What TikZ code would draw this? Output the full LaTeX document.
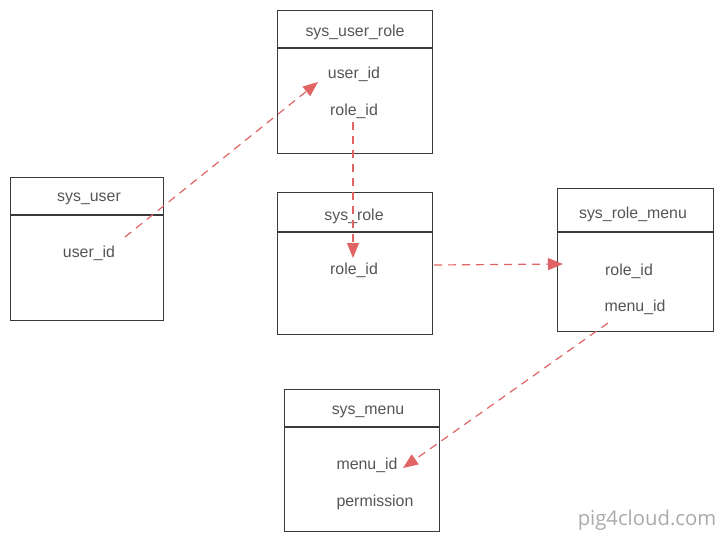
\documentclass[tikz,border=0pt]{standalone}
\usepackage{fontspec}
\setmainfont{Liberation Sans}
\newfontfamily\wmfont{Open Sans}
\usetikzlibrary{arrows.meta,calc}
\definecolor{txt}{HTML}{555555}
\definecolor{edge}{HTML}{3A3A3A}
\definecolor{rel}{HTML}{E06464}
\definecolor{wm}{HTML}{AAAAAA}
\tikzset{
  tbl/.style={draw=edge, line width=1.1pt, minimum width=#1, anchor=north west, inner sep=0pt},
  field/.style={text=txt, font=\fontsize{15.9}{19}\selectfont, inner sep=1pt, yshift=-2pt},
  hdr/.style={draw=edge, line width=1.1pt},
  relline/.style={draw=rel, line width=1.2pt, dash pattern=on 8pt off 6pt, -{Triangle[length=15pt,width=12pt]}},
}
\begin{document}
\begin{tikzpicture}[x=1pt,y=-1pt]
\useasboundingbox (0,0) rectangle (723,542);
% tables
\node[tbl=155pt, minimum height=143pt] (tur) at (277,10) {};
\node[tbl=153pt, minimum height=143pt] (tu) at (10,177) {};
\node[tbl=155pt, minimum height=142pt] (tr) at (277,192) {};
\node[tbl=156pt, minimum height=143pt] (trm) at (557,188) {};
\node[tbl=155pt, minimum height=142pt] (tm) at (284,389) {};
% header lines
\draw[hdr] (tur.west |- 0,48) -- (tur.east |- 0,48);
\draw[hdr] (tu.west |- 0,215) -- (tu.east |- 0,215);
\draw[hdr] (tr.west |- 0,232) -- (tr.east |- 0,232);
\draw[hdr] (trm.west |- 0,232) -- (trm.east |- 0,232);
\draw[hdr] (tm.west |- 0,427) -- (tm.east |- 0,427);
% texts
\node[field] (turn) at (355,30) {sys\_user\_role};
\node[field] (turu) at (354,72) {user\_id};
\node[field] (turr) at (354,109) {role\_id};
\node[field] (tun) at (89,197) {sys\_user};
\node[field] (tuu) at (89,251) {user\_id};
\node[field] (trn) at (354,214) {sys\_role};
\node[field] (trr) at (354,268) {role\_id};
\node[field] (trmn) at (633,212) {sys\_role\_menu};
\node[field] (trmr) at (629,269) {role\_id};
\node[field] (trmm) at (635,305) {menu\_id};
\node[field] (tmn) at (368,410) {sys\_menu};
\node[field] (tmm) at (367,463) {menu\_id};
\node[field] (tmp) at (375,500) {permission};
% watermark
\node[text=wm, font=\wmfont\fontsize{20.3}{24}\selectfont, inner sep=0pt] (wmk) at (647,520) {pig4cloud.com};
% relation endpoints
\coordinate (a1) at (125,237);
\coordinate (b1) at (318,82);
\coordinate (a2) at (353,122);
\coordinate (b2) at (353,258);
\coordinate (a3) at (434,265);
\coordinate (b3) at (563,264);
\coordinate (a4) at (608,323);
\coordinate (b4) at (403,468);
\draw[relline] (a1) -- (b1);
\draw[relline] (a2) -- (b2);
\draw[relline] (a3) -- (b3);
\draw[relline] (a4) -- (b4);
\end{tikzpicture}
\end{document}
